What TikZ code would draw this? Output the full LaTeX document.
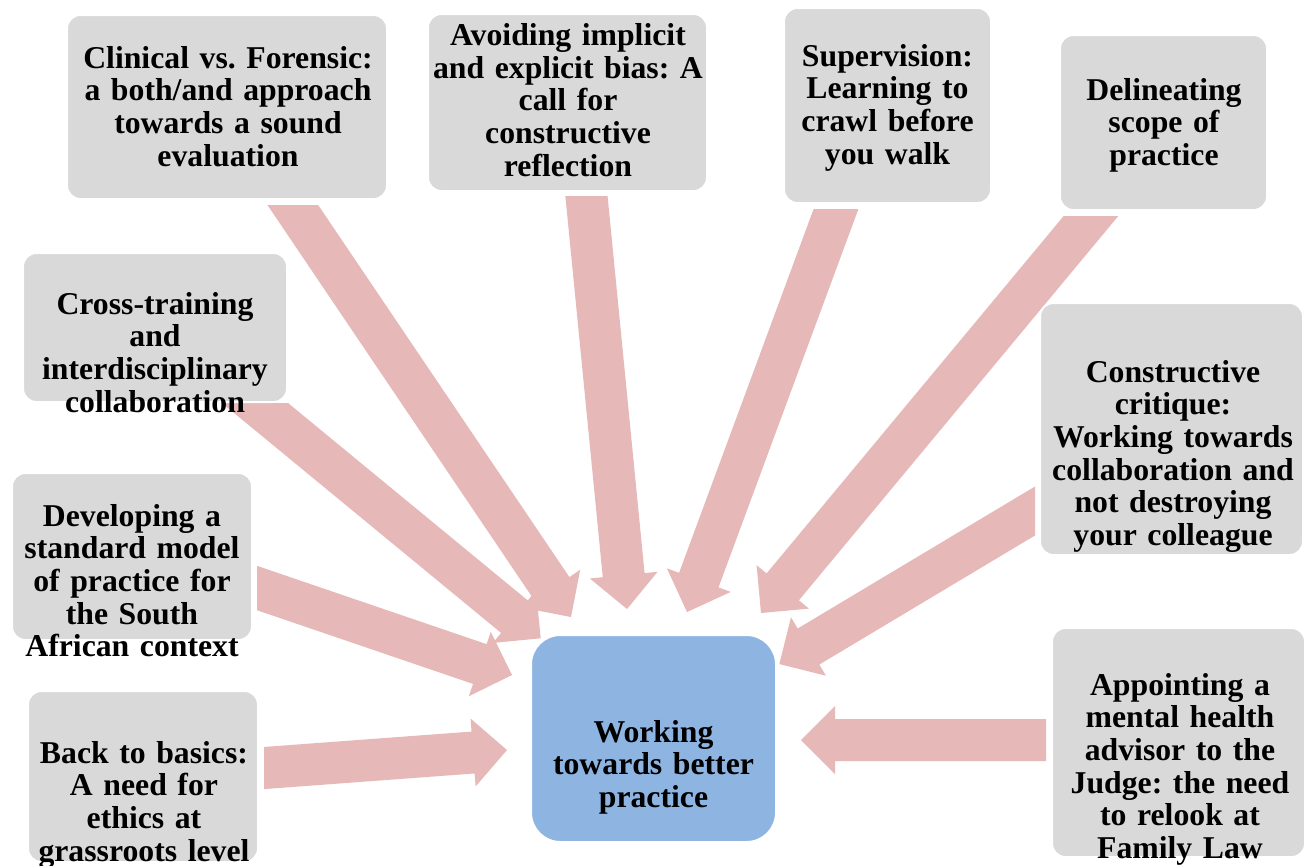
\documentclass[tikz,border=0pt]{standalone}
\usepackage{fontspec}
\setmainfont{Liberation Serif}
\usetikzlibrary{calc}
\setlength{\parindent}{0pt}
\frenchspacing
\definecolor{boxgray}{HTML}{D9D9D9}
\definecolor{boxblue}{HTML}{8EB4E2}
\definecolor{arrowpink}{HTML}{E6B8B7}
\newcommand\bashaft{15.75pt}
\newcommand\bahead{25.5pt}
\newcommand\balen{25.5pt}
\newcommand\blockarrow[3]{%
  \begin{scope}
    \clip #3;
    \coordinate (#2-neck) at ($(#2)!\balen!(#1)$);
    \fill[arrowfill] ($(#1)!\bashaft!90:(#2)$) -- ($(#2-neck)!\bashaft!90:(#2)$)
      -- ($(#2-neck)!\bahead!90:(#2)$) -- (#2) -- ($(#2-neck)!\bahead!-90:(#2)$)
      -- ($(#2-neck)!\bashaft!-90:(#2)$) -- ($(#1)!\bashaft!-90:(#2)$) -- cycle;
  \end{scope}}
\newcommand\mkbox[6]{%
  \node[#1, minimum width={(#5-#3)*0.75pt}, minimum height={(#6-#4)*0.75pt}]
    (#2) at ({(#3+#5)/2},{(#4+#6)/2}) {};}
\tikzset{
  gbox/.style={fill=boxgray, draw=white, line width=1.5pt, rounded corners=10pt, inner sep=0pt, outer sep=0pt},
  cbox/.style={fill=boxblue, draw=white, line width=1.5pt, rounded corners=22pt, inner sep=0pt, outer sep=0pt},
  lbl/.style={align=center, text width=330pt, font=\fontsize{23.8pt}{24.5pt}\selectfont\bfseries\frenchspacing, anchor=base, inner sep=0pt},
  arrowfill/.style={fill=arrowpink}
}
\begin{document}
\begin{tikzpicture}[x=0.75pt,y=-0.75pt]
\useasboundingbox (0,0) rectangle (1313,865);
\fill[white] (0,0) rectangle (1313,865);
% arrow ends
\coordinate (t1) at (279.3,185);  \coordinate (p1) at (571,617);
\coordinate (t2) at (584.5,176);  \coordinate (p2) at (627,609);
\coordinate (t3) at (843.4,189);  \coordinate (p3) at (687,612);
\coordinate (t4) at (1107.6,196); \coordinate (p4) at (761,613);
\coordinate (t5) at (230.7,383);  \coordinate (p5) at (540.7,638.3);
\coordinate (t6) at (237,581.2);  \coordinate (p6) at (512,675);
\coordinate (t7) at (244,769.5);  \coordinate (p7) at (507,750);
\coordinate (t8) at (1055,499);   \coordinate (p8) at (779.3,664);
\coordinate (t9) at (1066,740);   \coordinate (p9) at (801,740);
% arrows
\blockarrow{t1}{p1}{(0,205) rectangle (1313,865)}
\blockarrow{t2}{p2}{(0,196) rectangle (1313,865)}
\blockarrow{t3}{p3}{(0,209) rectangle (1313,865)}
\blockarrow{t4}{p4}{(0,216) rectangle (1313,865)}
\blockarrow{t5}{p5}{(0,403) rectangle (1313,865)}
\blockarrow{t6}{p6}{(257,0) rectangle (1313,865)}
\blockarrow{t7}{p7}{(264,0) rectangle (1313,865)}
\blockarrow{t8}{p8}{(0,0) rectangle (1035,865)}
\blockarrow{t9}{p9}{(0,0) rectangle (1046,865)}
% boxes
\mkbox{gbox}{b1}{67}{15}{387}{199}
\mkbox{gbox}{b2}{428}{14}{707}{191}
\mkbox{gbox}{b3}{784}{8}{991}{203}
\mkbox{gbox}{b4}{1060}{35}{1267}{210}
\mkbox{gbox}{b5}{23}{253}{287}{402}
\mkbox{gbox}{b6}{12}{473}{252}{640}
\mkbox{gbox}{b7}{28}{691}{258}{862}
\mkbox{gbox}{b8}{1040}{303}{1303}{555}
\mkbox{gbox}{b9}{1052}{628}{1305}{857}
\mkbox{cbox}{b0}{531}{635}{776}{842}
% labels
\node[lbl] (l1) at (228,68) {Clinical vs. Forensic:\\a both/and approach\\towards a sound\\evaluation};
\node[lbl] (l2) at (568,45.5) {Avoiding implicit\\and explicit bias: A\\call for\\constructive\\reflection};
\node[lbl] (l3) at (887.5,66) {Supervision:\\Learning to\\crawl before\\you walk};
\node[lbl] (l4) at (1164,100) {Delineating\\scope of\\practice};
\node[lbl] (l5) at (155,314) {Cross-training\\and\\interdisciplinary\\collaboration};
\node[lbl] (l6) at (132,526) {Developing a\\standard model\\of practice for\\the South\\African context};
\node[lbl] (l7) at (144,763) {Back to basics:\\A need for\\ethics at\\grassroots level};
\node[lbl] (l8) at (1173,382) {Constructive\\critique:\\Working towards\\collaboration and\\not destroying\\your colleague};
\node[lbl] (l9) at (1180,695) {Appointing a\\mental health\\advisor to the\\Judge: the need\\to relook at\\Family Law};
\node[lbl] (l0) at (653.5,742) {Working\\towards better\\practice};
\end{tikzpicture}
\end{document}
